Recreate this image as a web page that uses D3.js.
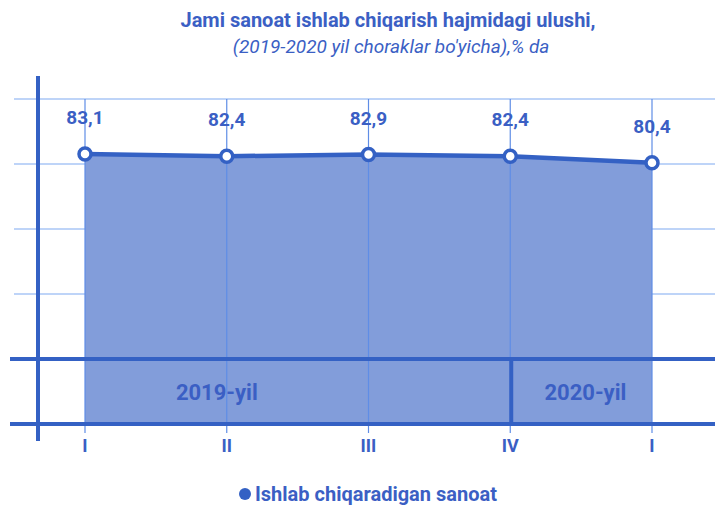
<!DOCTYPE html>
<html>
<head>
<meta charset="utf-8">
<script src="https://cdn.jsdelivr.net/npm/d3@7"></script>
<style>
  body { margin: 0; background: #fff; }
  svg { display: block; font-family: Roboto, "Liberation Sans", Arial, sans-serif; }
</style>
</head>
<body>
<div id="chart"></div>
<script>
// data
const quarters = ['I', 'II', 'III', 'IV', 'I'];
const values = [83.1, 82.4, 82.9, 82.4, 80.4];
const yTicks = [0, 20, 40, 60, 80, 100];
const years = [
  { label: '2019-yil', pos: 0.93 },
  { label: '2020-yil', pos: 3.53 }
];
const yearSplit = 3; // between 2019 IV and 2020 I, at quarter IV
const title = 'Jami sanoat ishlab chiqarish hajmidagi ulushi,';
const subtitle = "(2019-2020 yil choraklar bo'yicha),% da";
const seriesName = 'Ishlab chiqaradigan sanoat';

const width = 715, height = 505;
const dark = '#3461c4';
const textBlue = '#3b5fc4';
const fill = '#829dda';
const gridLight = '#a8c6f6';
const gridV = '#5f8de6';

const svg = d3.select('#chart').append('svg')
  .attr('width', width)
  .attr('height', height);

const x = d3.scaleLinear().domain([0, quarters.length - 1]).range([85, 652]);
const y = d3.scaleLinear().domain([0, 100]).range([424, 99]);

// titles
svg.append('text')
  .attr('x', 388).attr('y', 27)
  .attr('text-anchor', 'middle')
  .attr('font-size', 20).attr('font-weight', 'bold')
  .attr('fill', textBlue)
  .text(title);
svg.append('text')
  .attr('x', 391).attr('y', 53)
  .attr('text-anchor', 'middle')
  .attr('font-size', 19).attr('font-style', 'italic')
  .attr('fill', textBlue)
  .text(subtitle);

// horizontal light gridlines
svg.append('g')
  .selectAll('line')
  .data(yTicks.filter(d => d > 20))
  .join('line')
    .attr('x1', 14).attr('x2', width)
    .attr('y1', d => y(d)).attr('y2', d => y(d))
    .attr('stroke', gridLight)
    .attr('stroke-width', 1.5);

// area
const area = d3.area()
  .x((d, i) => x(i))
  .y0(y(0))
  .y1(d => y(d));
svg.append('path')
  .datum(values)
  .attr('d', area)
  .attr('fill', fill);

// vertical gridlines + ticks
svg.append('g')
  .selectAll('line')
  .data(quarters)
  .join('line')
    .attr('x1', (d, i) => x(i)).attr('x2', (d, i) => x(i))
    .attr('y1', y(100)).attr('y2', y(0) + 9)
    .attr('stroke', gridV)
    .attr('stroke-width', 1.2);

// thick lines at 0 and 20
svg.append('g')
  .selectAll('line')
  .data([0, 20])
  .join('line')
    .attr('x1', 10).attr('x2', width)
    .attr('y1', d => y(d)).attr('y2', d => y(d))
    .attr('stroke', dark)
    .attr('stroke-width', 4);

// year divider
svg.append('line')
  .attr('x1', x(yearSplit) + 1).attr('x2', x(yearSplit) + 1)
  .attr('y1', y(20)).attr('y2', y(0))
  .attr('stroke', dark)
  .attr('stroke-width', 4);

// left axis line
svg.append('line')
  .attr('x1', 38).attr('x2', 38)
  .attr('y1', 76).attr('y2', 441)
  .attr('stroke', dark)
  .attr('stroke-width', 4);

// year labels
svg.append('g')
  .selectAll('text')
  .data(years)
  .join('text')
    .attr('x', d => x(d.pos))
    .attr('y', 400)
    .attr('text-anchor', 'middle')
    .attr('font-size', 22).attr('font-weight', 'bold')
    .attr('fill', textBlue)
    .text(d => d.label);

// quarter labels
svg.append('g')
  .selectAll('text')
  .data(quarters)
  .join('text')
    .attr('x', (d, i) => x(i))
    .attr('y', 452)
    .attr('text-anchor', 'middle')
    .attr('font-size', 18).attr('font-weight', 'bold')
    .attr('fill', textBlue)
    .text(d => d);

// line
const line = d3.line()
  .x((d, i) => x(i))
  .y(d => y(d));
svg.append('path')
  .datum(values)
  .attr('d', line)
  .attr('fill', 'none')
  .attr('stroke', dark)
  .attr('stroke-width', 4.5);

// markers
svg.append('g')
  .selectAll('circle')
  .data(values)
  .join('circle')
    .attr('cx', (d, i) => x(i))
    .attr('cy', d => y(d))
    .attr('r', 6)
    .attr('fill', '#fff')
    .attr('stroke', dark)
    .attr('stroke-width', 3.5);

// value labels
svg.append('g')
  .selectAll('text')
  .data(values)
  .join('text')
    .attr('x', (d, i) => x(i))
    .attr('y', d => y(d) - 30)
    .attr('text-anchor', 'middle')
    .attr('font-size', 19).attr('font-weight', 'bold')
    .attr('fill', textBlue)
    .text(d => d.toFixed(1).replace('.', ','));

// legend
const legend = svg.append('g').attr('transform', 'translate(245,494)');
legend.append('circle')
  .attr('r', 6)
  .attr('fill', dark);
legend.append('text')
  .attr('x', 10).attr('y', 7)
  .attr('font-size', 20).attr('font-weight', 'bold')
  .attr('fill', textBlue)
  .text(seriesName);
</script>
</body>
</html>
